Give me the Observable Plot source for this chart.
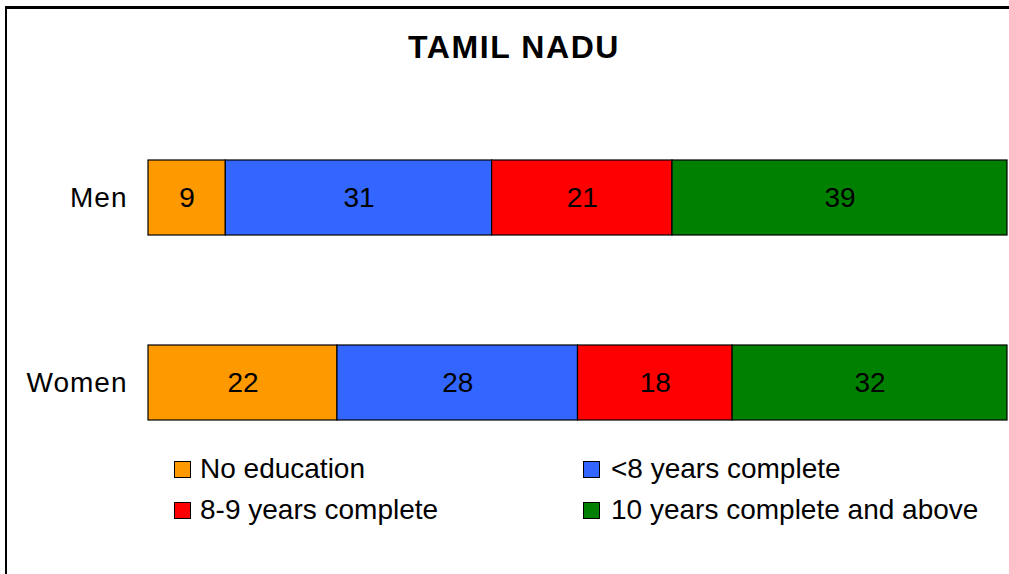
<!DOCTYPE html>
<html>
<head>
<meta charset="utf-8">
<script src="https://cdn.jsdelivr.net/npm/d3@7"></script>
<script src="https://cdn.jsdelivr.net/npm/@observablehq/plot@0.6"></script>
<style>
  html, body { margin: 0; padding: 0; background: #fff; }
  #wrap { position: relative; width: 1009px; height: 574px; overflow: hidden; font-family: "Liberation Sans", Arial, sans-serif; }
  #frame { position: absolute; left: 5px; top: 6px; width: 1100px; height: 700px; border-top: 3px solid #000; border-left: 2px solid #000; box-sizing: border-box; }
  #title { position: absolute; left: 0; width: 1028px; top: 29px; text-align: center; font-weight: bold; font-size: 32px; letter-spacing: 1.6px; color: #000; }
  .leg { position: absolute; font-size: 28px; color: #000; line-height: 1; white-space: nowrap; }
  .sw { position: absolute; width: 15px; height: 15px; border: 1px solid #000; }
  #chart { position: absolute; left: 0; top: 0; }
  #chart g[aria-label="y-axis tick label"] text { letter-spacing: 1px; }
</style>
</head>
<body>
<div id="wrap">
  <div id="frame"></div>
  <div id="chart"></div>
  <div id="title"></div>
</div>
<script>
const title = "TAMIL NADU";
const groups = ["Men", "Women"];
const categories = ["No education", "<8 years complete", "8-9 years complete", "10 years complete and above"];
const colors = ["#FF9900", "#3366FF", "#FF0000", "#008000"];
const menValues = [9, 31, 21, 39];
const womenValues = [22, 28, 18, 32];

const data = [];
categories.forEach((c, i) => {
  data.push({group: "Men", category: c, value: menValues[i]});
  data.push({group: "Women", category: c, value: womenValues[i]});
});

const plot = Plot.plot({
  width: 1009,
  height: 574,
  marginLeft: 148,
  marginRight: 2,
  marginTop: 48,
  marginBottom: 43,
  style: {fontFamily: "'Liberation Sans', Arial, sans-serif", fontSize: "28px", color: "#000", background: "transparent"},
  x: {domain: [0, 100], axis: null},
  y: {domain: groups, padding: 0.597, label: null, tickSize: 0, tickPadding: 21},
  color: {domain: categories, range: colors},
  marks: [
    Plot.barX(data, Plot.stackX({x: "value", y: "group", fill: "category", z: "category", order: categories, stroke: "#000", strokeWidth: 1.2})),
    Plot.text(data, Plot.stackX({x: "value", y: "group", z: "category", text: "value", order: categories, fill: "#000", fontSize: 28}))
  ]
});
document.getElementById("chart").appendChild(plot);
document.getElementById("title").textContent = title;

const legPos = [
  {sx: 174, sy: 461, tx: 200, ty: 455},
  {sx: 583, sy: 461, tx: 611, ty: 455},
  {sx: 174, sy: 502, tx: 200, ty: 496},
  {sx: 583, sy: 502, tx: 611, ty: 496}
];
const wrap = document.getElementById("wrap");
categories.forEach((c, i) => {
  const p = legPos[i];
  const sw = document.createElement("div");
  sw.className = "sw";
  sw.style.left = p.sx + "px";
  sw.style.top = p.sy + "px";
  sw.style.background = colors[i];
  wrap.appendChild(sw);
  const t = document.createElement("div");
  t.className = "leg";
  t.style.left = p.tx + "px";
  t.style.top = p.ty + "px";
  t.textContent = c;
  wrap.appendChild(t);
});
</script>
</body>
</html>
